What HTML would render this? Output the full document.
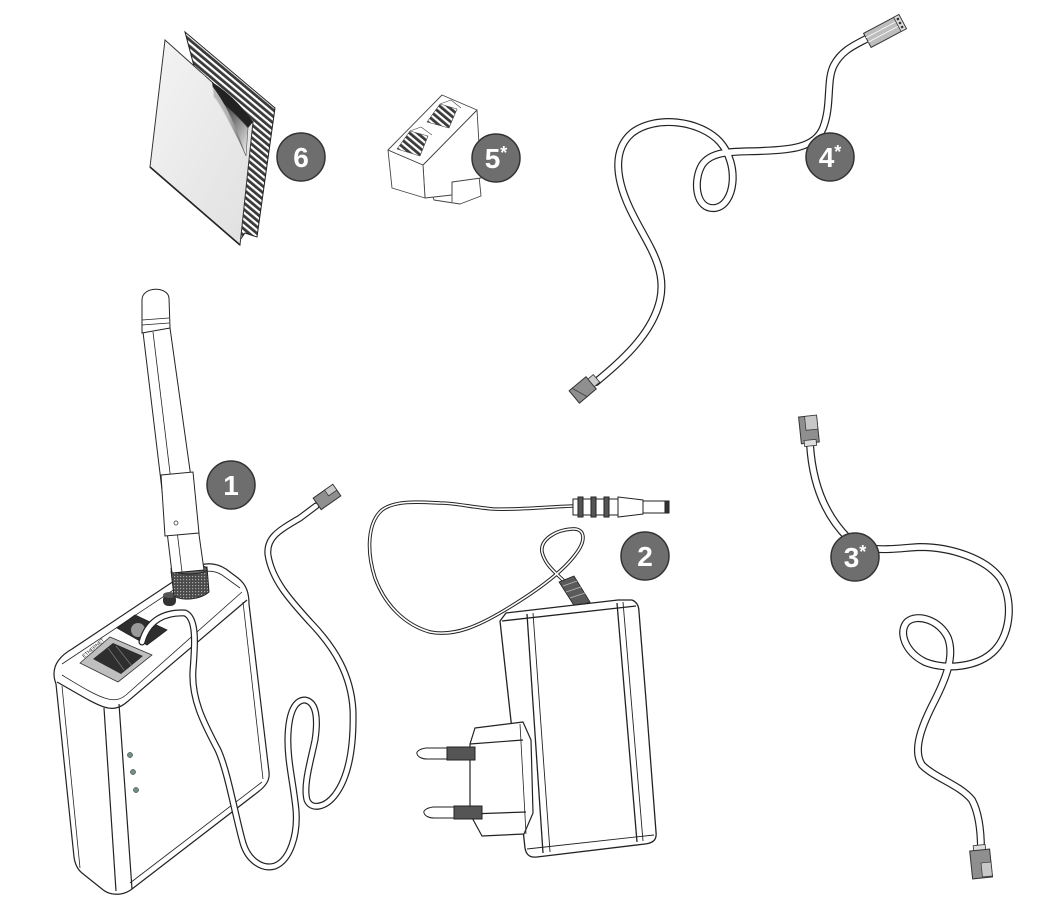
<!DOCTYPE html>
<html><head><meta charset="utf-8">
<style>html,body{margin:0;padding:0;background:#fff}svg{display:block}</style></head>
<body>
<svg width="1041" height="905" viewBox="0 0 1041 905" xmlns="http://www.w3.org/2000/svg">
<defs>
<pattern id="hatch" width="5" height="5" patternUnits="userSpaceOnUse" patternTransform="rotate(40)">
<rect width="5" height="5" fill="#3a3a3a"/><rect width="5" height="2.2" fill="#fff"/>
</pattern>
<pattern id="knurl" width="3" height="3" patternUnits="userSpaceOnUse">
<rect width="3" height="3" fill="#4a4a4a"/><rect width="1.2" height="1.2" fill="#aaa"/>
</pattern>
<linearGradient id="curl" x1="0" y1="0" x2="1" y2="1">
<stop offset="0" stop-color="#1c1c1c"/><stop offset="0.5" stop-color="#777"/><stop offset="1" stop-color="#f4f4f4"/>
</linearGradient>
<linearGradient id="curl2" x1="0" y1="0" x2="1" y2="0">
<stop offset="0" stop-color="#fafafa"/><stop offset="0.6" stop-color="#c8c8c8"/><stop offset="1" stop-color="#555"/>
</linearGradient>
<linearGradient id="sheet" x1="0" y1="0" x2="1" y2="1">
<stop offset="0" stop-color="#f4f4f4"/><stop offset="1" stop-color="#e0e0e0"/>
</linearGradient>
</defs>

<!-- ===== 6 adhesive pad ===== -->
<polygon points="185,32 275,108 257,237 245,233 240,240" fill="url(#hatch)" stroke="#222" stroke-width="1"/>
<polygon points="165,40 212,82 253,122 240,245 150,167" fill="url(#sheet)" stroke="#333" stroke-width="1"/>
<path d="M150,167 L240,245" stroke="#222" stroke-width="1.6"/>
<path d="M212,82 C228,92 244,108 253,122 L248,128 C236,116 222,104 214,96 Z" fill="#222"/>
<path d="M214,96 C226,106 240,118 248,128 L246,156 C238,136 226,112 214,96 Z" fill="url(#curl)" stroke="#555" stroke-width="0.6"/>
<path d="M200,72 C208,78 212,84 214,96 C222,110 234,130 246,156 C236,126 224,96 200,72 Z" fill="url(#curl2)" opacity="0.8"/>

<!-- ===== 5* coupler ===== -->
<g stroke="#444" stroke-width="0.9" fill="#fff" stroke-linejoin="round">
<polygon points="432,194 452,182 479,176 481,196 460,204 434,200"/>
<polygon points="423,165 477,110 481,178 452,182 452,195 425,198"/>
<polygon points="388,150 423,165 425,198 392,188"/>
<polygon points="388,150 442,95 477,110 423,165"/>
<line x1="452" y1="182" x2="452" y2="202"/>
<polygon points="397,149 410,131 428,136 420,156" fill="url(#hatch)" stroke-width="0.6"/>
<polygon points="427,122 440,104 457,109 449,128" fill="url(#hatch)" stroke-width="0.6"/>
<polyline points="410,131 421,127 432,135" fill="none" stroke-width="0.6"/>
<polyline points="440,104 451,100 461,108" fill="none" stroke-width="0.6"/>
</g>

<!-- ===== 4* cable ===== -->
<g fill="none" stroke-linecap="round" stroke-linejoin="round">
<path d="M596,382 C620,362 652,335 660,300 C667,268 648,245 633,215 C615,180 612,150 632,133 C655,115 700,120 720,142 C740,165 735,205 715,208 C695,210 693,180 702,165 C712,150 735,152 760,151 C790,150 815,148 823,128 C832,105 826,80 834,65 C842,50 855,45 868,38" stroke="#222" stroke-width="8"/>
<path d="M596,382 C620,362 652,335 660,300 C667,268 648,245 633,215 C615,180 612,150 632,133 C655,115 700,120 720,142 C740,165 735,205 715,208 C695,210 693,180 702,165 C712,150 735,152 760,151 C790,150 815,148 823,128 C832,105 826,80 834,65 C842,50 855,45 868,38" stroke="#fff" stroke-width="5.6"/>
</g>
<g transform="translate(885,31) rotate(-28)">
<rect x="-20" y="-8" width="40" height="16" fill="#bdbdbd" stroke="#333" stroke-width="1"/>
<line x1="-20" y1="-3" x2="14" y2="-3" stroke="#fff" stroke-width="0.8"/>
<line x1="-20" y1="2" x2="14" y2="2" stroke="#fff" stroke-width="0.8"/>
<rect x="14" y="-8" width="6" height="16" fill="#ddd" stroke="#333" stroke-width="0.8"/>
<circle cx="17" cy="-4.5" r="1.3" fill="#333"/><circle cx="17" cy="0" r="1.3" fill="#333"/><circle cx="17" cy="4.5" r="1.3" fill="#333"/>
</g>
<g transform="translate(585,388) rotate(-40)">
<rect x="-14" y="-8" width="22" height="16" fill="#8f8f8f" stroke="#333" stroke-width="1"/>
<rect x="8" y="-5" width="7" height="10" fill="#ccc" stroke="#333" stroke-width="0.8"/>
<line x1="-10" y1="-8" x2="-4" y2="8" stroke="#333" stroke-width="0.8"/>
</g>

<!-- ===== 3* cable ===== -->
<g fill="none" stroke-linecap="round" stroke-linejoin="round">
<path d="M810,444 C812,478 822,512 848,538 C868,555 895,548 920,547 C950,547 985,558 1000,578 C1013,597 1012,632 995,650 C978,668 945,670 925,662 C905,652 898,632 907,622 C917,613 940,620 948,638 C955,657 945,680 935,700 C922,725 912,750 922,765 C935,778 960,785 972,800 C980,815 981,835 981,850" stroke="#222" stroke-width="8"/>
<path d="M810,444 C812,478 822,512 848,538 C868,555 895,548 920,547 C950,547 985,558 1000,578 C1013,597 1012,632 995,650 C978,668 945,670 925,662 C905,652 898,632 907,622 C917,613 940,620 948,638 C955,657 945,680 935,700 C922,725 912,750 922,765 C935,778 960,785 972,800 C980,815 981,835 981,850" stroke="#fff" stroke-width="5.6"/>
</g>
<g transform="translate(809,430) rotate(-6)">
<rect x="-9" y="-14" width="18" height="27" fill="#8f8f8f" stroke="#333" stroke-width="1"/>
<rect x="-3" y="-14" width="12" height="14" fill="#c8c8c8" stroke="#333" stroke-width="0.7"/>
<rect x="-6" y="10" width="12" height="6" fill="#ddd" stroke="#333" stroke-width="0.8"/>
</g>
<g transform="translate(981,863) rotate(-6)">
<rect x="-6" y="-18" width="12" height="6" fill="#ddd" stroke="#333" stroke-width="0.8"/>
<rect x="-10" y="-13" width="20" height="28" fill="#8f8f8f" stroke="#333" stroke-width="1"/>
<rect x="0" y="0" width="10" height="14" fill="#c8c8c8" stroke="#333" stroke-width="0.7"/>
</g>

<!-- ===== 1 device ===== -->
<g stroke="#222" stroke-width="1.2" fill="#fff" stroke-linejoin="round">
<path d="M56,684 C50,668 58,657 72,649 L192,569 C203,562 215,562 226,569 L238,578 C247,585 249,594 249,604 L269,772 C270,780 266,786 258,792 L132,889 C123,896 110,896 102,889 L82,873 C77,869 75,864 74,857 Z"/>
<path d="M57,682 C75,692 92,703 104,707 C113,710 120,708 127,702 L247,600" fill="none"/>
<path d="M62,675 C80,686 96,696 108,699 C116,701 121,699 126,695 L242,592" fill="none" stroke-width="0.8"/>
<path d="M62,664 L196,575 C205,570 214,570 222,575 L240,588" fill="none" stroke-width="0.8"/>
<path d="M104,708 L116,891" fill="none"/>
<path d="M119,704 L132,889" fill="none"/>
<path d="M62,686 L80,868" fill="none" stroke-width="0.8"/>
<path d="M243,602 L263,779" fill="none" stroke-width="0.8"/>
<path d="M130,883 L262,782" fill="none" stroke-width="0.8"/>
</g>
<!-- ethernet port -->
<polygon points="80,663 110,637 152,655 118,682" fill="#bfbfbf" stroke="#333" stroke-width="0.8"/>
<polygon points="93,659 113,643 143,656 121,674" fill="#2e2e2e"/>
<line x1="108" y1="648" x2="124" y2="670" stroke="#777" stroke-width="0.8"/>
<line x1="116" y1="646" x2="132" y2="666" stroke="#777" stroke-width="0.8"/>
<text x="0" y="0" transform="translate(84,658) rotate(-40)" font-family="Liberation Sans, sans-serif" font-size="5" fill="#222">ETHERNET</text>
<!-- power jack -->
<polygon points="117,628 135,615 167,630 147,645" fill="#2e2e2e" stroke="#222" stroke-width="0.8"/>
<circle cx="138" cy="630" r="7" fill="#9a9a9a"/>
<!-- button -->
<rect x="163" y="594" width="13" height="12" rx="5" fill="#333"/>
<ellipse cx="169.5" cy="595" rx="6.5" ry="3" fill="#555"/>
<!-- antenna base -->
<path d="M171,571 L207,567 L209,592 C200,600 182,601 174,596 Z" fill="url(#knurl)" stroke="#222" stroke-width="1"/>
<ellipse cx="189" cy="569" rx="18" ry="5" fill="#666" stroke="#222" stroke-width="1"/>
<!-- antenna -->
<g stroke="#222" stroke-width="1" fill="#fff">
<polygon points="143,332 170,328 204,570 172,573"/>
<line x1="153" y1="332" x2="182" y2="572" stroke-width="0.8"/>
<polygon points="161,475 193,472 199,533 165,536"/>
<path d="M142,333 L142,300 C142,286 168,286 169,298 L170,328 Z"/>
<line x1="142" y1="320" x2="169" y2="318" stroke-width="0.8"/>
<line x1="142" y1="325" x2="169" y2="323" stroke-width="0.8"/>
<circle cx="176" cy="523" r="2" stroke-width="0.7"/>
</g>
<!-- device cable 1 -->
<g fill="none" stroke-linecap="round" stroke-linejoin="round">
<path d="M142,642 C148,620 165,612 185,613 C197,618 195,645 193,670 C191,700 205,725 218,750 C228,772 235,815 243,843 C248,860 262,870 275,866 C290,860 298,835 296,810 C293,780 287,760 288,735 C289,712 295,700 305,700 C317,702 318,720 315,740 C311,760 303,785 307,800 C311,810 325,808 335,795 C348,778 354,750 353,710 C351,675 335,648 310,622 C290,600 272,580 268,555 C266,537 280,530 300,518 L316,506" stroke="#222" stroke-width="7"/>
<path d="M142,642 C148,620 165,612 185,613 C197,618 195,645 193,670 C191,700 205,725 218,750 C228,772 235,815 243,843 C248,860 262,870 275,866 C290,860 298,835 296,810 C293,780 287,760 288,735 C289,712 295,700 305,700 C317,702 318,720 315,740 C311,760 303,785 307,800 C311,810 325,808 335,795 C348,778 354,750 353,710 C351,675 335,648 310,622 C290,600 272,580 268,555 C266,537 280,530 300,518 L316,506" stroke="#fff" stroke-width="4.6"/>
</g>
<g transform="translate(327,497) rotate(-35)">
<rect x="-12" y="-7" width="24" height="14" fill="#8f8f8f" stroke="#333" stroke-width="1"/>
<rect x="2" y="-7" width="10" height="7" fill="#c8c8c8" stroke="#333" stroke-width="0.7"/>
</g>
<!-- LEDs -->
<circle cx="130" cy="755" r="2.6" fill="#6f8f80" stroke="#333" stroke-width="0.5"/>
<circle cx="133" cy="772" r="2.6" fill="#6f8f80" stroke="#333" stroke-width="0.5"/>
<circle cx="136" cy="790" r="2.6" fill="#6f8f80" stroke="#333" stroke-width="0.5"/>

<!-- ===== 2 power adapter ===== -->
<g fill="none" stroke-linecap="round" stroke-linejoin="round">
<path d="M573,506 C545,507 515,510 493,509 C470,507 455,503 440,503 C420,502 395,500 382,510 C368,522 366,550 375,578 C385,605 405,625 430,632 C455,637 480,625 505,610 C530,595 560,575 575,555 C587,540 585,528 572,529 C555,530 540,540 542,552 C545,565 555,572 565,582" stroke="#222" stroke-width="3.6"/>
<path d="M573,506 C545,507 515,510 493,509 C470,507 455,503 440,503 C420,502 395,500 382,510 C368,522 366,550 375,578 C385,605 405,625 430,632 C455,637 480,625 505,610 C530,595 560,575 575,555 C587,540 585,528 572,529 C555,530 540,540 542,552 C545,565 555,572 565,582" stroke="#fff" stroke-width="1.6"/>
</g>
<!-- strain relief -->
<polygon points="559,582 574,576 590,602 575,607" fill="#5a5a5a" stroke="#222" stroke-width="0.8"/>
<line x1="563" y1="586" x2="577" y2="581" stroke="#bbb" stroke-width="0.8"/>
<line x1="566" y1="592" x2="581" y2="587" stroke="#bbb" stroke-width="0.8"/>
<line x1="570" y1="598" x2="585" y2="593" stroke="#bbb" stroke-width="0.8"/>
<!-- body -->
<g stroke="#222" stroke-width="1.3" fill="#fff" stroke-linejoin="round">
<path d="M500,621 L506,613 L618,600 L632,600 C637,602 639,606 639,612 L646,700 L656,832 C657,840 653,843 645,844 L537,857 C529,858 526,854 525,848 Z"/>
<path d="M502,621 L636,606" fill="none"/>
<path d="M527,614 L543,853" fill="none"/>
<path d="M533,613 L550,852" fill="none" stroke-width="0.9"/>
<path d="M617,603 L637,842" fill="none"/>
<path d="M623,602 L643,841" fill="none" stroke-width="0.9"/>
<path d="M527,849 L654,835" fill="none" stroke-width="0.9"/>
</g>
<!-- plug block -->
<g stroke="#222" stroke-width="1.2" fill="#fff" stroke-linejoin="round">
<polygon points="475,728 523,722 531,740 533,813 524,834 482,836 470,814 470,744"/>
<line x1="470" y1="744" x2="523" y2="740"/>
<line x1="470" y1="814" x2="526" y2="812"/>
<line x1="520" y1="724" x2="526" y2="834" stroke-width="0.8"/>
</g>
<!-- pins -->
<g stroke="#222" stroke-width="1">
<rect x="447" y="747" width="28" height="13" fill="#555"/>
<path d="M447,748 L426,748 C419,749 416,752 417,754 C418,757 422,759 427,759 L447,759 Z" fill="#fff"/>
<rect x="454" y="806" width="28" height="13" fill="#555"/>
<path d="M454,807 L433,807 C426,808 423,811 424,813 C425,816 429,818 434,818 L454,818 Z" fill="#fff"/>
</g>
<!-- DC plug -->
<g stroke="#222" stroke-width="1" fill="#fff">
<rect x="573" y="499" width="45" height="16"/>
<rect x="578" y="497" width="5" height="20" fill="#555"/>
<rect x="591" y="497" width="5" height="20" fill="#555"/>
<rect x="604" y="497" width="5" height="20" fill="#555"/>
<polygon points="618,497 643,500 643,514 618,517"/>
<rect x="643" y="501" width="24" height="12"/>
<rect x="665" y="501" width="4" height="12" fill="#333"/>
</g>

<!-- ===== badges ===== -->
<g font-family="Liberation Sans, Arial, sans-serif" font-weight="bold" fill="#fff" text-anchor="middle">
<circle cx="301" cy="157" r="24" fill="#6e6e6e" stroke="#333" stroke-width="1.5"/>
<text x="301" y="167" font-size="28">6</text>
<circle cx="496" cy="158" r="24" fill="#6e6e6e" stroke="#333" stroke-width="1.5"/>
<text x="496" y="168" font-size="28">5<tspan font-size="18" dy="-9">*</tspan></text>
<circle cx="830" cy="157" r="24" fill="#6e6e6e" stroke="#333" stroke-width="1.5"/>
<text x="830" y="167" font-size="28">4<tspan font-size="18" dy="-9">*</tspan></text>
<circle cx="231" cy="485" r="24" fill="#6e6e6e" stroke="#333" stroke-width="1.5"/>
<text x="231" y="495" font-size="28">1</text>
<circle cx="645" cy="556" r="24" fill="#6e6e6e" stroke="#333" stroke-width="1.5"/>
<text x="645" y="566" font-size="28">2</text>
<circle cx="855" cy="557" r="24" fill="#6e6e6e" stroke="#333" stroke-width="1.5"/>
<text x="855" y="567" font-size="28">3<tspan font-size="18" dy="-9">*</tspan></text>
</g>
</svg>
</body></html>
